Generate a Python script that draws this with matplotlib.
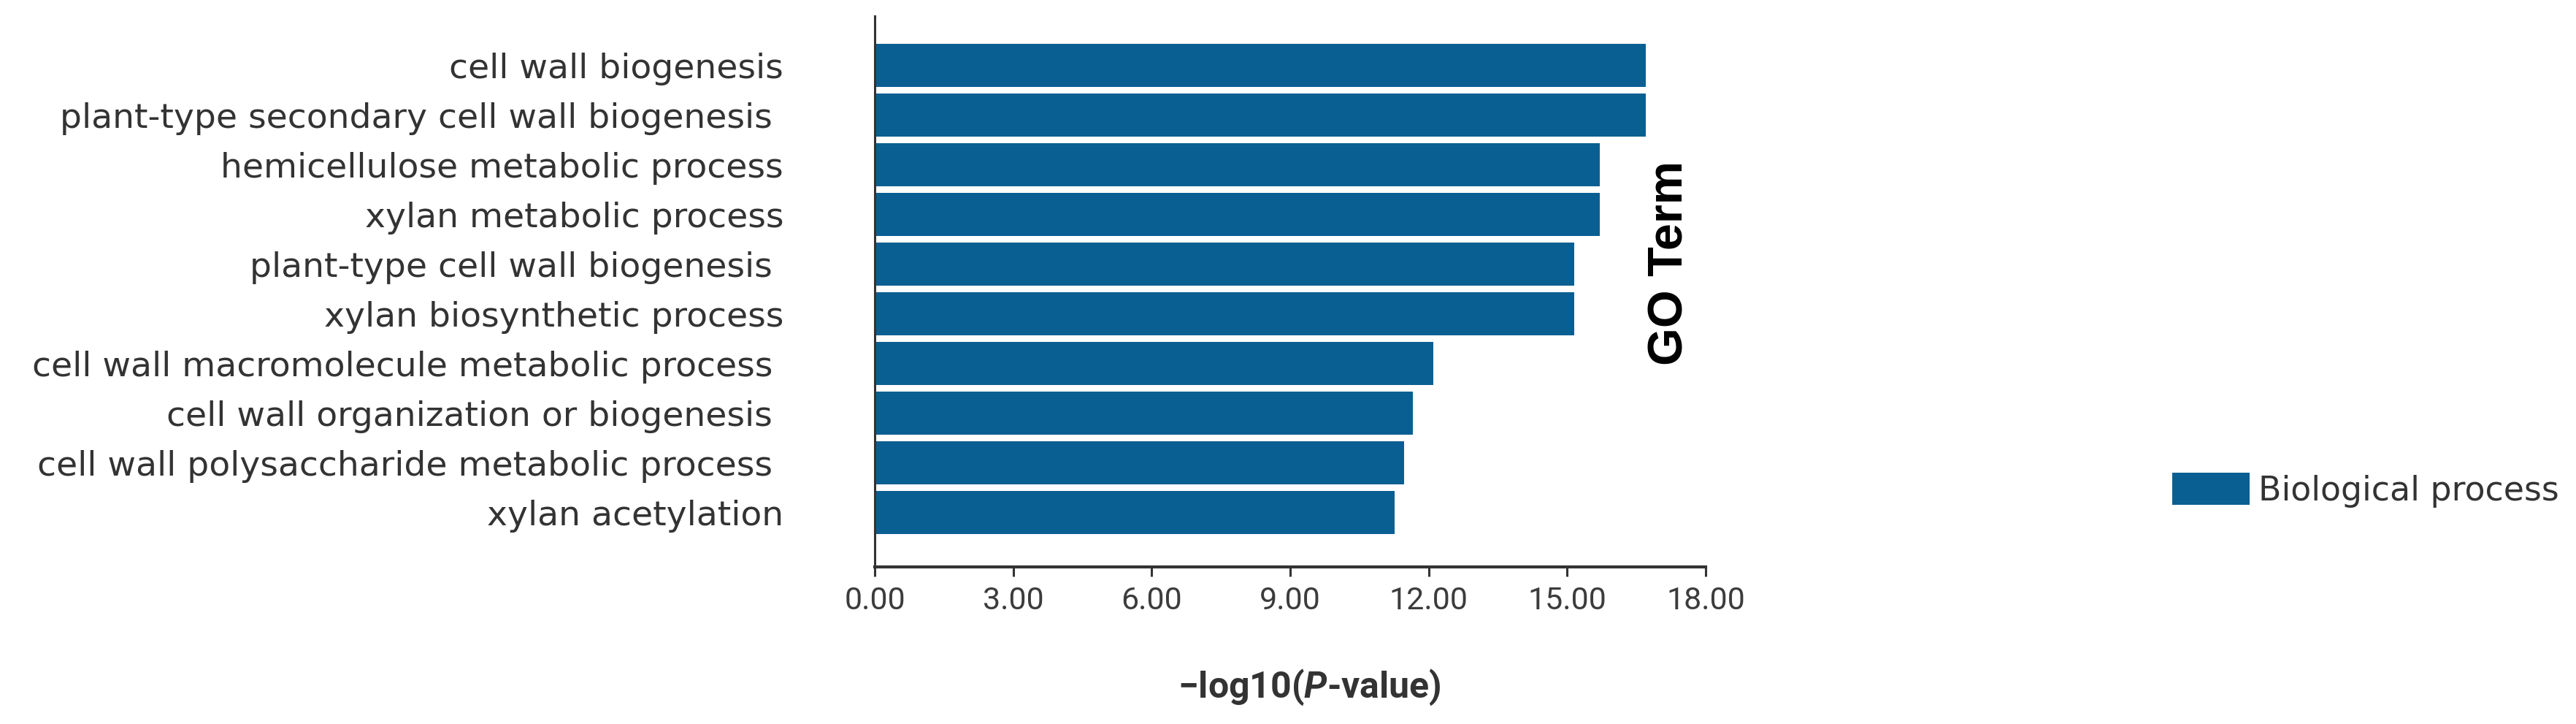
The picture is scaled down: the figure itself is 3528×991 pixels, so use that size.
"""GO enrichment bar chart: -log10(P) of top biological process terms."""
import matplotlib
matplotlib.use("Agg")
import matplotlib.pyplot as plt

terms = [
    "cell wall biogenesis",
    "plant-type secondary cell wall biogenesis ",
    "hemicellulose metabolic process",
    "xylan metabolic process",
    "plant-type cell wall biogenesis ",
    "xylan biosynthetic process",
    "cell wall macromolecule metabolic process ",
    "cell wall organization or biogenesis ",
    "cell wall polysaccharide metabolic process ",
    "xylan acetylation",
]
neg_log_p = [16.7, 16.7, 15.7, 15.7, 15.15, 15.15, 12.1, 11.65, 11.47, 11.27]
xticks = [0, 3, 6, 9, 12, 15, 18]
category = "Biological process"

BLUE = "#0a5f92"
GREY = "#333333"
NARROW = ["Liberation Sans Narrow", "Roboto"]

plt.rcParams["mathtext.fontset"] = "custom"
plt.rcParams["mathtext.bfit"] = "Roboto:italic:bold"
plt.rcParams["font.sans-serif"] = ["Liberation Sans", "DejaVu Sans"]

fig = plt.figure(figsize=(35.28, 9.91), dpi=100)
ax = fig.add_axes([0.3396, 0.217, 0.6621 - 0.3396, 0.978 - 0.217])

ax.barh(range(len(terms)), neg_log_p, height=0.87, color=BLUE, label=category)
ax.set_ylim(len(terms) - 1 + 1.09, -1.0)
ax.set_xlim(0, 18)

ax.set_yticks(range(len(terms)))
ax.set_yticklabels(terms, family="DejaVu Sans", fontsize=34, color=GREY)
ax.tick_params(axis="y", length=0, pad=90)

ax.set_xticks(xticks)
ax.set_xticklabels([f"{t:.2f}" for t in xticks], family=NARROW, fontsize=31,
                   color="#3c3c3c")
ax.tick_params(axis="x", direction="out", length=9, width=2.2, color="#333333",
               pad=10)

for side in ("top", "right"):
    ax.spines[side].set_visible(False)
ax.spines["left"].set_linewidth(2.2)
ax.spines["left"].set_color("#333333")
ax.spines["bottom"].set_linewidth(3)
ax.spines["bottom"].set_color("#333333")

fig.text(0.5083, 0.051, "\u2212log10(" + r"$\mathbfit{P}$" + "-value)",
         ha="center", va="center", fontsize=36, fontweight="bold",
         family=NARROW, color="#333333")

fig.text(0.6485, 0.637, "GO Term", rotation=90, ha="center", va="center",
         fontsize=48, fontweight="bold", family="Liberation Sans",
         color="black")

ax.legend(loc="center left", bbox_to_anchor=(0.8433, 0.323),
          bbox_transform=fig.transFigure, frameon=False, borderpad=0,
          borderaxespad=0, handlelength=2.3, handleheight=1.1,
          handletextpad=0.27, prop={"family": "DejaVu Sans", "size": 33},
          labelcolor=GREY)

fig.savefig("out.png", dpi=100, facecolor="white")
